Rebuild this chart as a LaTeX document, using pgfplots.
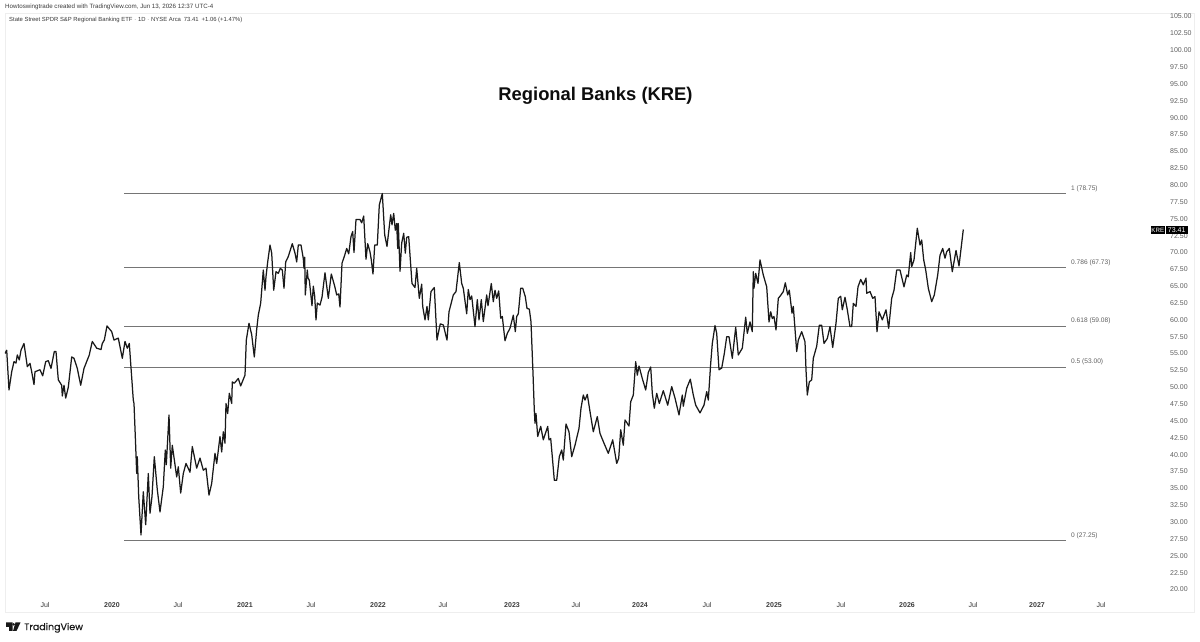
\documentclass[border=0pt]{standalone}
\usepackage{fontspec}
\setmainfont{Liberation Sans}
\newfontfamily\popp[RawFeature={embolden=0.6}]{Poppins}
\usepackage{pgfplots}
\usepackage{pgfplotstable}
\pgfplotsset{compat=1.18}
\definecolor{framec}{HTML}{EEEEEE}
\definecolor{fibc}{HTML}{757575}
\definecolor{lblc}{HTML}{5E5E5E}
\definecolor{txtc}{HTML}{3A3A3A}
\pgfplotstableread{
x y
5 55.0
6.7 55.5
9 49.6
11.7 52.3
14 53.8
16 53.6
17.3 54.8
19.3 54.05
21 55.5
24 56.5
27.3 53.06
30 53.55
31.7 52.3
34 50.4
35 52.3
38.3 52.5
40 52.6
42.7 51.7
45.7 53.8
48.3 53.95
51 52.8
54.3 55.3
56 55.3
58.3 51.1
61.7 50.3
62.3 48.7
64 50.3
65.7 48.4
68.3 50.0
71.7 54.5
74 54.3
77.3 52.8
80.7 50.3
84 52.8
89.3 54.8
90 55.3
92.3 56.8
96.7 55.8
101 55.6
102.3 56.5
104.3 57.0
107 59.1
111.7 58.25
114 57.0
118.3 57.3
122.3 54.3
125 56.8
127.3 55.8
129.3 56.5
130.7 53.55
133.3 48.1
134 47.6
135.7 41.2
136.7 37.2
137.3 39.7
138.7 33.8
141 28.1
143.3 34.5
145.7 29.6
148.3 37.2
150 31.3
152 33.8
154.3 39.7
157.3 34.8
160 31.5
163.3 35.25
165.3 40.7
166.3 38.5
169 45.9
170.7 38.0
172.3 41.4
176.7 36.7
178.3 38.2
180.7 34.3
183.3 37.2
186 38.7
190 37.4
192.3 41.2
196.7 38.0
200 39.5
203.3 37.7
206 38.0
209 34.0
211.7 35.75
215 40.2
216.7 38.7
220 42.7
221.7 40.4
223.3 43.4
225 41.7
226 47.6
227.7 46.1
229.3 49.1
231.7 47.6
232.3 50.8
234.3 50.6
238.3 51.3
240.7 50.2
245 51.8
246.3 57.0
249 59.5
251.7 57.8
254.3 54.5
256.7 58.6
258.3 60.7
260.7 62.5
263.3 67.4
265 64.4
266 66.4
267.7 68.6
270 71.1
271.7 69.9
273.7 64.4
276 67.15
278.3 66.9
280.3 67.65
282.3 67.4
284 64.7
285.7 68.6
288.3 69.4
292.3 71.3
295 69.9
296.7 68.6
298.3 71.1
301 71.1
303.3 69.1
304 67.65
304.7 69.3
305.3 63.7
307.3 67.4
308 66.2
309.3 65.9
312 62.1
313.3 65.0
314.7 63.5
316 60.0
317.3 62.5
320 62.2
322 63.35
325 67.0
328.3 63.2
331.3 66.8
334.7 65.0
336.7 63.7
338.7 63.85
340 61.9
342 68.4
344.7 69.6
346.7 70.6
348.7 69.8
351 72.35
352.7 73.1
354 70.0
356 74.9
360 74.9
361.7 74.4
363.7 75.4
366 69.0
367.7 71.3
370 70.1
371.3 68.9
373 66.8
374.7 71.1
377.3 71.1
379.3 77.05
382.3 78.75
384.7 72.6
387 70.9
388.3 72.6
390.7 75.6
392 74.1
393.7 75.8
395.3 73.3
396.7 74.3
397.7 70.6
398.3 74.3
400 67.2
401.7 71.4
403.7 72.85
405.3 69.9
406.7 72.25
408.7 72.35
412 65.4
415 64.8
416.7 67.65
419.3 63.2
421.7 65.3
422.7 62.0
425 60.0
427 62.0
428.3 60.0
431 64.2
434.3 64.8
437 57.0
439.3 58.75
440.3 59.4
443.3 59.25
447 57.0
449 61.2
453.3 63.7
456 64.2
459.3 68.5
461.7 65.4
463.3 64.7
466.7 60.9
468.3 64.5
470 63.0
471.7 63.55
475 59.0
477.3 63.0
479 60.0
481.3 63.0
483.3 59.75
486.7 63.7
488 62.1
491.3 65.4
493.3 62.7
495 64.4
496.7 63.2
498.7 64.3
500.7 60.25
502.3 60.5
505 56.9
507.3 58.0
510 58.75
513.3 60.7
515.3 58.25
516.7 60.5
518.3 60.9
520.7 64.7
522.7 64.7
525.3 63.45
527 61.7
529.3 61.6
531 59.7
533 52.07
534.3 46.6
535 44.65
536 46.1
537.7 42.7
540.7 44.2
543.3 42.2
547.7 44.2
549 42.2
550.7 42.4
552.3 39.7
554.3 36.2
556.7 36.2
559.3 39.7
561.7 40.7
563.3 39.2
566 44.55
569 43.4
571.7 39.7
575 41.4
579 43.9
581 46.9
583.3 48.85
585 48.1
587.3 48.95
590 46.4
593.3 43.4
597.3 45.65
600 43.15
604 41.7
608.3 40.2
612.7 42.2
616.7 38.7
618.7 39.45
620.7 43.7
623.3 41.4
625 45.15
629 44.25
630.7 47.85
633.3 48.85
635.7 53.8
637.3 51.8
639 53.15
642.3 51.3
645.7 49.6
648.3 52.2
650.7 53.0
652.3 49.1
654.3 46.9
656.7 49.1
659.3 47.6
663.3 49.5
667.7 47.35
671.7 50.1
675 48.4
679 45.9
682.3 48.85
683.3 47.2
686.7 49.85
690.3 51.2
693.3 48.85
695.7 47.35
700 46.2
704 47.35
706.7 49.35
708.3 48.1
710.7 53.55
712.3 56.5
715 59.15
716.7 58.0
719 52.6
721.7 52.85
724.3 55.0
726.7 57.5
729 57.5
732.3 54.3
735.7 58.9
738.3 54.8
742.3 55.8
745.7 60.4
747.3 58.0
750 59.7
752.3 58.25
753.3 67.15
754 64.7
755.7 66.9
758 65.4
760 68.9
763.3 66.65
766.7 64.9
769 59.7
770.7 61.2
772.3 60.2
774 60.5
776 58.5
778.3 63.2
781 63.7
783.3 64.2
785.3 65.5
787.7 63.7
789.3 64.4
792 61.0
793.3 62.0
796.7 55.3
798.3 57.0
801.7 58.25
805 56.75
806 52.6
807.3 48.85
809.3 50.8
811.7 51.1
813.3 54.3
816.7 56.1
819.3 59.2
821.7 59.2
824 56.5
827.3 57.25
830 59.0
832.7 55.9
836 59.5
838.3 63.2
840.7 63.5
842.3 61.5
845 63.35
847.3 61.5
850 59.0
851.7 59.0
853.3 62.45
856 62.0
858 64.9
860.7 66.0
863.3 65.2
866 66.2
866.7 63.95
870 64.2
872.7 63.2
875 63.45
877 58.25
879 61.2
882.3 60.0
886 61.5
888.7 58.75
891.7 63.2
894 64.4
896.7 67.4
900 67.4
904 64.9
906.7 66.65
908.3 66.4
910.7 70.0
911.7 67.9
914 68.9
917.3 73.6
920 71.1
921.7 71.85
923.7 68.9
925.7 67.4
928.3 64.7
931.7 62.7
934.3 63.7
937.7 66.65
940 69.6
942.7 70.6
945 69.15
946.7 70.1
949.3 70.6
952.3 67.15
956 70.3
959 68.0
963.3 73.41
}\kre
\begin{document}
\begin{tikzpicture}[x=1pt,y=1pt]
\path[use as bounding box] (0,0) rectangle (1200,642);
\begin{axis}[
  at={(5pt,30pt)}, anchor=south west,
  scale only axis, width=1189pt, height=599pt,
  xmin=5, xmax=1194, ymin=16.66, ymax=105.53,
  axis line style={framec, line width=0.8pt},
  tick style={draw=none},
  ytick pos=right, yticklabel pos=right,
  ytick={20,22.5,...,105},
  xtick={45,112,178,245,311,378,443,512,576,640,707,774,841,907,973,1037,1101},
  xticklabels={Jul,\textbf{2020},Jul,\textbf{2021},Jul,\textbf{2022},Jul,\textbf{2023},Jul,\textbf{2024},Jul,\textbf{2025},Jul,\textbf{2026},Jul,\textbf{2027},Jul},
  y tick label style={anchor=west, xshift=-24pt, inner sep=0pt, font=\fontsize{7}{8}\selectfont, text=lblc,
    /pgf/number format/.cd, fixed, fixed zerofill, precision=2, assume math mode=true},
  x tick label style={anchor=center, yshift=6.5pt, inner sep=0pt, font=\fontsize{7}{8}\selectfont, text=txtc},
]
\addplot[fibc, line width=0.9pt, forget plot] coordinates {(124,78.75) (1066,78.75)};
\addplot[fibc, line width=0.9pt, forget plot] coordinates {(124,67.73) (1066,67.73)};
\addplot[fibc, line width=0.9pt, forget plot] coordinates {(124,59.08) (1066,59.08)};
\addplot[fibc, line width=0.9pt, forget plot] coordinates {(124,53.00) (1066,53.00)};
\addplot[fibc, line width=0.9pt, forget plot] coordinates {(124,27.25) (1066,27.25)};
\addplot[black!90, line width=1.25pt, line join=round] table[x=x,y=y] {\kre};
\end{axis}
\tikzset{fib/.style={anchor=west, inner sep=0pt, text=lblc, font=\fontsize{6.6}{8}\selectfont}}
\node[fib] at (1071,453.7) {1 (78.75)};
\node[fib] at (1071,379.5) {0.786 (67.73)};
\node[fib] at (1071,321) {0.618 (59.08)};
\node[fib] at (1071,280) {0.5 (53.00)};
\node[fib] at (1071,106.2) {0 (27.25)};
\node[anchor=center, inner sep=0pt, font=\bfseries\fontsize{18.4}{22}\selectfont, text=black!95] at (595.5,546.5) {Regional Banks (KRE)};
\node[anchor=west, inner sep=0pt, text=txtc, font=\fontsize{6.2}{8}\selectfont] at (5,635) {Howtoswingtrade created with TradingView.com, Jun 13, 2026 12:37 UTC-4};
\node[anchor=west, inner sep=0pt, text=txtc, font=\fontsize{5.9}{8}\selectfont] at (9,622) {State Street SPDR S\&P Regional Banking ETF $\cdot$ 1D $\cdot$ NYSE Arca\enspace 73.41\enspace +1.06 (+1.47\%)};
\fill[black] (1151,408) rectangle (1164.5,416);
\fill[black] (1165.5,408) rectangle (1188,416);
\node[inner sep=0pt, text=white, font=\fontsize{6.2}{7}\selectfont] at (1157.8,412) {KRE};
\node[inner sep=0pt, text=white, font=\fontsize{7}{8}\selectfont] at (1176.7,412) {73.41};
% TradingView logo
\fill[black!90] (6,19.5) rectangle (12.5,15.2) (9,15.2) rectangle (12.5,11);
\fill[black!90] (20.5,19.5) -- (15.5,19.5) -- (13,11) -- (16.5,11) -- cycle;
\fill[black!90] (13.6,17.6) circle (1.3);
\node[anchor=west, inner sep=0pt, text=black!90, font=\popp\fontsize{9.5}{12}\selectfont] at (24,14.2) {TradingView};
\end{tikzpicture}
\end{document}
